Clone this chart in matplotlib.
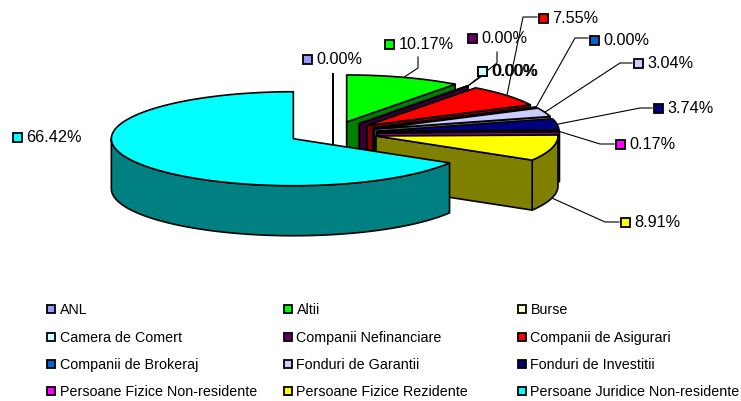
#!/usr/bin/env python3
import numpy as np
import matplotlib
matplotlib.use('Agg')
import matplotlib.pyplot as plt
from matplotlib.patches import Polygon, Rectangle

categories = ['ANL', 'Altii', 'Burse', 'Camera de Comert', 'Companii Nefinanciare',
              'Companii de Asigurari', 'Companii de Brokeraj', 'Fonduri de Garantii',
              'Fonduri de Investitii', 'Persoane Fizice Non-residente',
              'Persoane Fizice Rezidente', 'Persoane Juridice Non-residente']
values = [0.00, 10.17, 0.00, 0.00, 0.00, 7.55, 0.00, 3.04, 3.74, 0.17, 8.91, 66.42]

top_colors = ['#9999FF', '#00FF00', '#FFFFCC', '#CCFFFF', '#660066', '#FF0000',
              '#0066CC', '#CCCCFF', '#000080', '#FF00FF', '#FFFF00', '#00FFFF']
dark_colors = ['#4C4C80', '#008000', '#808066', '#668080', '#330033', '#800000',
               '#003366', '#666680', '#000040', '#800080', '#808000', '#008080']

# pie geometry, in pixels
CX, CY = 332.5, 133
RX, RY = 182, 47
DEPTH = 50
EXPLODE = 45

# box position of each data label, and the elbow of its leader (None = no leader)
label_box = [(307, 59), (389, 44), (482.5, 71), (482, 71), (472, 38), (543, 18),
             (594, 40), (638, 63), (658, 108), (620, 144), (625, 222), (17, 137)]
leader_elbow = [None, [(418, 68), (418, 57)], None, [(482, 76)], [(497, 63), (497, 52)],
                [(523, 17), (537, 17)], [(575, 38), (588, 38)], [(620, 63), (632, 63)],
                [(640, 108), (652, 108)], [(600, 144), (614, 144)],
                [(605, 222), (619, 222)], None]

legend_x = [51, 288, 522]
legend_y = [309, 337, 364, 391]

LW = 1.2
FONT = 'Liberation Sans'

fig = plt.figure(figsize=(7.41, 4.01), dpi=100)
ax = fig.add_axes([0, 0, 1, 1])
ax.set_xlim(0, 741)
ax.set_ylim(401, 0)
ax.axis('off')


def rim(cx, cy, t):
    return cx + RX * np.cos(np.radians(t)), cy + RY * np.sin(np.radians(t))


def poly(pts, color, z):
    ax.add_patch(Polygon(pts, closed=True, facecolor=color, edgecolor='black',
                         linewidth=LW, joinstyle='round', zorder=z))


def box(x, y, color, size, z):
    ax.add_patch(Rectangle((x - size / 2, y - size / 2), size, size, facecolor=color,
                           edgecolor='black', linewidth=1.3, zorder=z))


starts = -90 + 3.6 * np.concatenate([[0], np.cumsum(values)[:-1]])
ends = starts + 3.6 * np.array(values)
z = 2
for i, v in enumerate(values):
    t0, t1 = starts[i], ends[i]
    mid = np.radians((t0 + t1) / 2)
    cx = CX + EXPLODE * np.cos(mid)
    cy = CY + EXPLODE * RY / RX * np.sin(mid)

    # outer wall, only the part that faces the viewer
    a, b = max(t0, 0), min(t1, 180)
    if b > a:
        ts = np.linspace(a, b, 80)
        upper = [rim(cx, cy, t) for t in ts]
        lower = [(x, y + DEPTH) for x, y in upper[::-1]]
        poly(upper + lower, dark_colors[i], z)
        z += 1

    # cut face at the clockwise end of the slice
    if t1 <= 90:
        ex, ey = rim(cx, cy, t1)
        poly([(cx, cy), (ex, ey), (ex, ey + DEPTH), (cx, cy + DEPTH)], dark_colors[i], z)
        z += 1

    # top face
    ts = np.linspace(t0, t1, max(2, int(v * 4)))
    poly([(cx, cy)] + [rim(cx, cy, t) for t in ts], top_colors[i], z)
    z += 1

    # leader from the rim at the slice's middle angle
    if leader_elbow[i] is not None:
        sx, sy = rim(cx, cy, (t0 + t1) / 2)
        if np.sin(mid) > 0:
            sy += DEPTH
        pts = [(sx, sy)] + leader_elbow[i]
        ax.plot([p[0] for p in pts], [p[1] for p in pts], color='black', lw=0.8, zorder=50)

    bx, by = label_box[i]
    box(bx, by, top_colors[i], 9, 60 + i)
    ax.text(bx + 9.5, by + 0.8, f'{v:.2f}%', fontsize=11.7, family=FONT, color='black',
            ha='left', va='center', zorder=80)

# legend, filled row by row
for i, name in enumerate(categories):
    col, row = i % 3, i // 3
    box(legend_x[col], legend_y[row], top_colors[i], 8, 60)
    ax.text(legend_x[col] + 8.5, legend_y[row] + 0.8, name, fontsize=10.25, family=FONT,
            color='black', ha='left', va='center', zorder=80)

fig.savefig('out.png', dpi=100)
